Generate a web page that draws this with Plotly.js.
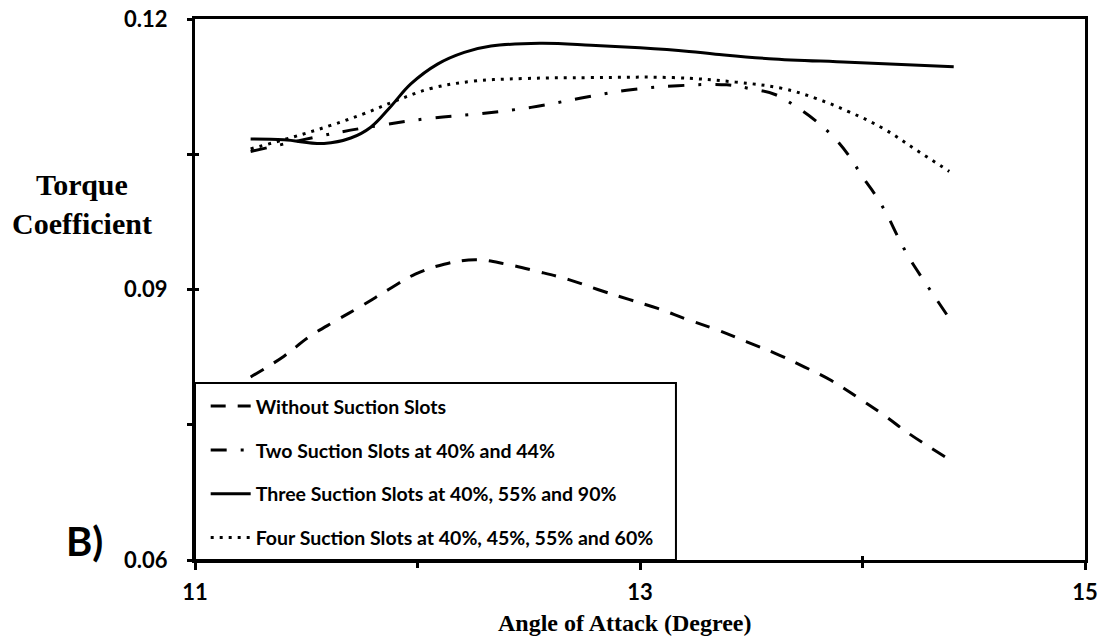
<!DOCTYPE html>
<html>
<head>
<meta charset="utf-8">
<script src="https://cdn.plot.ly/plotly-3.0.1.min.js"></script>
<style>
  html, body { margin: 0; padding: 0; background: #fff; }
  #chart { width: 1102px; height: 644px; }
</style>
</head>
<body>
<div id="chart"></div>
<script>
// ---- Data ----
const seriesNames = [
  "Without Suction Slots",
  "Two Suction Slots at 40% and 44%",
  "Three Suction Slots at 40%, 55% and 90%",
  "Four Suction Slots at 40%, 45%, 55% and 60%"
];

const withoutX = [11.25, 11.40, 11.51, 11.63, 11.75, 11.87, 11.99, 12.12, 12.26, 12.40, 12.54, 12.68, 12.81, 12.95, 13.08, 13.21, 13.35, 13.48, 13.61, 13.74, 13.86, 13.98, 14.10, 14.21, 14.40];
const withoutY = [0.0803, 0.0826, 0.0847, 0.0865, 0.0882, 0.0900, 0.0917, 0.0928, 0.0933, 0.0928, 0.0920, 0.0911, 0.0900, 0.0889, 0.0879, 0.0867, 0.0855, 0.0842, 0.0829, 0.0814, 0.0799, 0.0780, 0.0760, 0.0740, 0.0710];

const twoX = [11.25, 11.62, 11.83, 12.06, 12.28, 12.51, 12.73, 12.94, 13.17, 13.39, 13.49, 13.61, 13.70, 13.79, 13.87, 13.94, 14.00, 14.06, 14.11, 14.16, 14.21, 14.27, 14.33, 14.39];
const twoY = [0.1053, 0.1073, 0.1082, 0.1090, 0.1095, 0.1102, 0.1112, 0.1121, 0.1126, 0.1127, 0.1123, 0.1116, 0.1103, 0.1087, 0.1069, 0.1048, 0.1025, 0.1004, 0.0983, 0.0958, 0.0935, 0.0912, 0.0890, 0.0868];

const threeX = [11.25, 11.40, 11.58, 11.70, 11.79, 11.88, 11.97, 12.09, 12.21, 12.33, 12.55, 12.78, 13.00, 13.22, 13.34, 13.58, 13.94, 14.41];
const threeY = [0.1067, 0.1066, 0.1062, 0.1068, 0.1080, 0.1103, 0.1128, 0.1150, 0.1163, 0.1170, 0.1173, 0.1171, 0.1168, 0.1164, 0.1161, 0.1156, 0.1152, 0.1147];

const fourX = [11.25, 11.44, 11.61, 11.76, 11.91, 12.06, 12.25, 12.48, 12.78, 13.15, 13.43, 13.64, 13.79, 13.94, 14.09, 14.24, 14.39];
const fourY = [0.1056, 0.1069, 0.1082, 0.1095, 0.1110, 0.1123, 0.1131, 0.1134, 0.1135, 0.1135, 0.1130, 0.1123, 0.1112, 0.1097, 0.1079, 0.1055, 0.1031];

const xTickVals = [11, 13, 15];
const xMinorVals = [12, 14];
const yTickVals = [0.06, 0.09, 0.12];
const yMinorVals = [0.075, 0.105];

// ---- Traces ----
const lineBase = { color: "#000", width: 3, shape: "spline", smoothing: 1.1 };
const traces = [
  { x: withoutX, y: withoutY, name: seriesNames[0], legendgroup: "g1", mode: "lines",
    line: Object.assign({}, lineBase, { dash: "15px,12px" }) },
  { x: twoX, y: twoY, name: seriesNames[1], legendgroup: "g2", mode: "lines",
    line: Object.assign({}, lineBase, { dash: "16px,14px,3px,14px" }) },
  { x: threeX, y: threeY, name: seriesNames[2], legendgroup: "g3", mode: "lines",
    line: Object.assign({}, lineBase, { dash: "solid" }) },
  { x: fourX, y: fourY, name: seriesNames[3], legendgroup: "g4", mode: "lines",
    line: Object.assign({}, lineBase, { dash: "3px,6px" }) },
  // invisible trace carrying the overlay axes used for the inner halves of the ticks
  { x: [null], y: [null], xaxis: "x2", yaxis: "y2", showlegend: false, hoverinfo: "skip", mode: "lines" }
];

const tickFont = { family: "Lato, 'Open Sans', sans-serif", size: 22, color: "#000", weight: 700 };
const serifBold = "'Liberation Serif', 'Times New Roman', serif";

const layout = {
  width: 1102, height: 644,
  margin: { l: 195, r: 17, t: 19, b: 84, pad: 0 },
  paper_bgcolor: "#fff", plot_bgcolor: "#fff",
  showlegend: true,
  xaxis: {
    range: [11, 15], tickmode: "array", tickvals: xTickVals, ticktext: xTickVals.map(String),
    ticks: "outside", ticklen: 7, tickwidth: 3, tickcolor: "#000",
    showline: true, linewidth: 3, linecolor: "#000", mirror: true,
    showgrid: false, zeroline: false, tickfont: tickFont, ticklabelstandoff: 4,
    minor: { tickmode: "array", tickvals: xMinorVals, ticks: "outside", ticklen: 5, tickwidth: 3, tickcolor: "#000", showgrid: false }
  },
  yaxis: {
    range: [0.06, 0.12], tickmode: "array", tickvals: yTickVals, ticktext: yTickVals.map(v => v.toFixed(2)),
    ticks: "outside", ticklen: 5, tickwidth: 3, tickcolor: "#000",
    showline: true, linewidth: 3, linecolor: "#000", mirror: true,
    showgrid: false, zeroline: false, tickfont: tickFont, ticklabelstandoff: 15,
    minor: { tickmode: "array", tickvals: yMinorVals, ticks: "outside", ticklen: 5, tickwidth: 3, tickcolor: "#000", showgrid: false }
  },
  xaxis2: {
    overlaying: "x", anchor: "y2", range: [11, 15], tickmode: "array", tickvals: xTickVals.concat(xMinorVals),
    ticks: "inside", ticklen: 4, tickwidth: 3, tickcolor: "#000", showticklabels: false,
    showline: false, showgrid: false, zeroline: false
  },
  yaxis2: {
    overlaying: "y", anchor: "x2", range: [0.06, 0.12], tickmode: "array", tickvals: yTickVals.concat(yMinorVals),
    ticks: "inside", ticklen: 4, tickwidth: 3, tickcolor: "#000", showticklabels: false,
    showline: false, showgrid: false, zeroline: false
  },
  legend: {
    x: 0.012, y: 0.32, xanchor: "left", yanchor: "top",
    bgcolor: "rgba(0,0,0,0)", borderwidth: 0,
    font: { family: "Lato, 'Open Sans', sans-serif", size: 19.5, color: "#000", weight: 700 },
    traceorder: "grouped", tracegroupgap: 15.5, itemwidth: 40
  },
  shapes: [
    { type: "rect", xref: "paper", yref: "paper", x0: 0, x1: 0.5404, y0: 0, y1: 0.3272,
      line: { color: "#000", width: 2 }, fillcolor: "#fff", layer: "above" }
  ],
  annotations: [
    { text: "Torque<br>Coefficient", xref: "paper", yref: "paper", x: -0.127, y: 0.658,
      xanchor: "center", yanchor: "middle", showarrow: false, align: "center",
      font: { family: serifBold, size: 30, color: "#000", weight: 700 } },
    { text: "B)", xref: "paper", yref: "paper", x: -0.1236, y: 0.035,
      xanchor: "center", yanchor: "middle", showarrow: false,
      font: { family: "Lato, 'Open Sans', sans-serif", size: 40, color: "#000", weight: 700 } },
    { text: "Angle of Attack (Degree)", xref: "paper", yref: "paper", x: 0.483, y: -0.1165,
      xanchor: "center", yanchor: "middle", showarrow: false,
      font: { family: serifBold, size: 24, color: "#000", weight: 700 } }
  ]
};

Plotly.newPlot("chart", traces, layout, { staticPlot: true, displayModeBar: false });
</script>
</body>
</html>
